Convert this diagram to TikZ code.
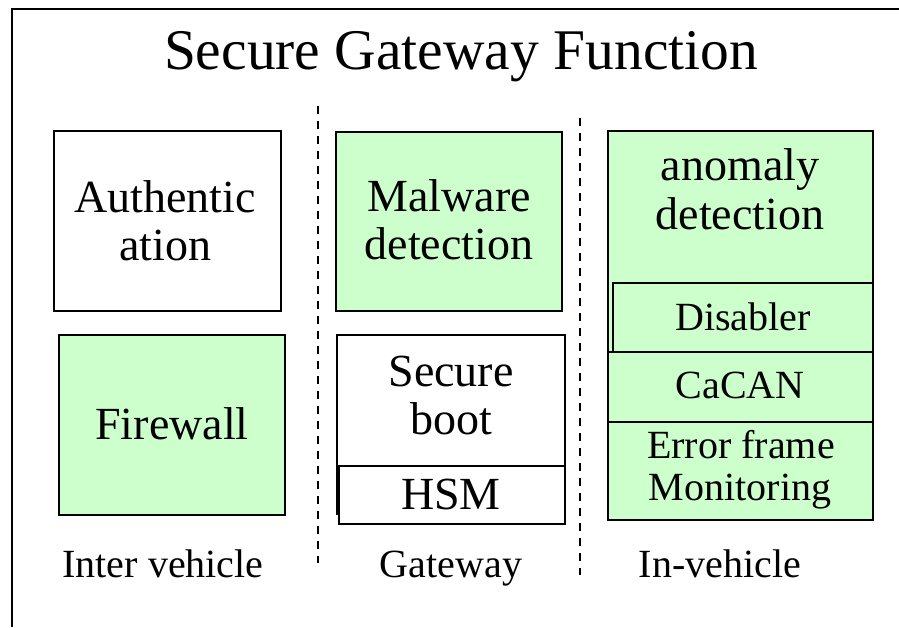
\documentclass[tikz,border=0pt]{standalone}
\usepackage{fontspec}
\setmainfont{Liberation Serif}
\definecolor{boxgreen}{HTML}{CCFFCC}
\begin{document}
\begin{tikzpicture}[x=1pt,y=-1pt,
  box/.style={draw=black,line width=1.6pt,rectangle,inner sep=0pt},
  gbox/.style={box,fill=boxgreen},
  wbox/.style={box,fill=white},
  lbl/.style={inner sep=0pt,anchor=base,font=\fontsize{46}{48}\selectfont},
  slbl/.style={inner sep=0pt,anchor=base,font=\fontsize{40}{42}\selectfont},
  sep/.style={line width=1.6pt,dash pattern=on 8pt off 7pt}]
\useasboundingbox (0,0) rectangle (899,627);
% frame
\coordinate (fbl) at (12,627);
\coordinate (ftl) at (12,9);
\coordinate (ftr) at (899,9);
\draw[line width=1.8pt] (fbl) -- (ftl) -- (ftr);
% title
\node[inner sep=0pt,anchor=base,font=\fontsize{57.5}{60}\selectfont] (title) at (461,69) {Secure Gateway Function};
% separators
\coordinate (d1t) at (318,106);
\coordinate (d1b) at (318,563);
\coordinate (d2t) at (580,118);
\coordinate (d2b) at (580,575);
\draw[sep] (d1t) -- (d1b);
\draw[sep] (d2t) -- (d2b);
% left column
\node[wbox,minimum width=227pt,minimum height=180pt] (auth) at (167.5,221) {};
\node[lbl] (authA) at (165,212) {Authentic};
\node[lbl] (authB) at (165,260) {ation};
\node[gbox,minimum width=226pt,minimum height=180pt] (fire) at (172,425) {};
\node[lbl] (fireT) at (172,439) {Firewall};
% middle column
\node[gbox,minimum width=226pt,minimum height=179pt] (malw) at (449,221.5) {};
\node[lbl] (malwA) at (449,211) {Malware};
\node[lbl] (malwB) at (449,259) {detection};
\node[wbox,minimum width=228pt,minimum height=179pt] (sboot) at (451,424.5) {};
\node[lbl] (sbootA) at (451,386) {Secure};
\node[lbl] (sbootB) at (451,434) {boot};
\node[wbox,minimum width=226pt,minimum height=58pt] (hsm) at (452,495) {};
\node[lbl] (hsmT) at (451,509) {HSM};
% right column
\node[gbox,minimum width=265pt,minimum height=389pt] (anom) at (740.5,325.5) {};
\node[lbl] (anomA) at (740,180) {anomaly};
\node[lbl] (anomB) at (740,229) {detection};
\node[gbox,minimum width=260pt,minimum height=69pt] (dis) at (743,317.5) {};
\node[slbl] (disT) at (743,330) {Disabler};
\node[gbox,minimum width=265pt,minimum height=70pt] (cacan) at (740.5,387) {};
\node[slbl] (cacanT) at (740,398) {CaCAN};
\node[gbox,minimum width=265pt,minimum height=98pt] (err) at (740.5,471) {};
\node[slbl] (errA) at (741,458) {Error frame};
\node[slbl] (errB) at (740,500) {Monitoring};
% bottom labels
\node[slbl] (inter) at (163,577) {Inter vehicle};
\node[slbl] (gw) at (451,577) {Gateway};
\node[slbl] (inv) at (720,577) {In-vehicle};
\end{tikzpicture}
\end{document}
